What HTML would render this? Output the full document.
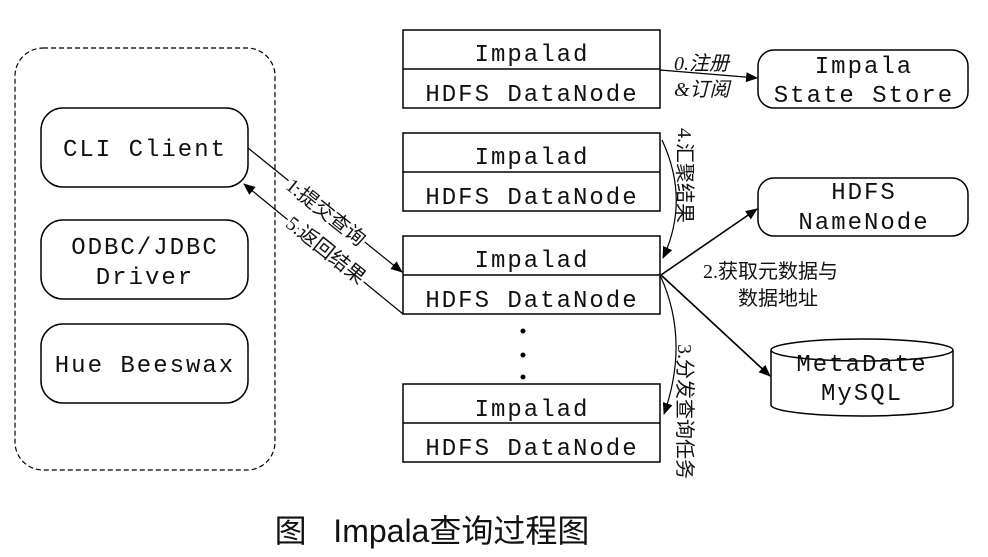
<!DOCTYPE html>
<html><head><meta charset="utf-8"><style>
html,body{margin:0;padding:0;background:#fff;width:988px;height:557px;overflow:hidden}
svg{display:block}
.m{font-family:"Liberation Mono","Noto Sans CJK SC",monospace;font-size:24px;letter-spacing:2px;fill:#111}
.c{font-family:"Liberation Serif","Noto Sans CJK SC",serif;font-size:20px;fill:#111}
.w{stroke:#fff;stroke-width:6px;paint-order:stroke}
</style></head><body>
<svg width="988" height="557" xmlns="http://www.w3.org/2000/svg">
<defs><marker id="a" markerWidth="12" markerHeight="10" refX="11" refY="5" orient="auto" markerUnits="userSpaceOnUse"><path d="M0,0 L12,5 L0,10 Z" fill="#000"/></marker></defs>
<g fill="none" stroke="#000" stroke-width="1.5">
<rect x="15" y="48" width="260" height="422" rx="28" stroke-dasharray="5,3" stroke-width="1.2"/>
<rect x="41" y="108" width="207" height="79" rx="22"/>
<rect x="41" y="220" width="207" height="79" rx="22"/>
<rect x="41" y="324" width="207" height="79" rx="22"/>
<rect x="403" y="30" width="257" height="78"/><line x1="403" y1="69" x2="660" y2="69"/>
<rect x="403" y="133" width="257" height="78"/><line x1="403" y1="172" x2="660" y2="172"/>
<rect x="403" y="236" width="257" height="78"/><line x1="403" y1="275" x2="660" y2="275"/>
<rect x="403" y="384" width="257" height="78"/><line x1="403" y1="423" x2="660" y2="423"/>
<rect x="758" y="50" width="210" height="58" rx="16"/>
<rect x="758" y="178" width="210" height="58" rx="16"/>
<path d="M771,350 L771,405 A91,11 0 0 0 953,405 L953,350"/>
<ellipse cx="862" cy="350" rx="91" ry="11"/>
</g>
<g stroke="#000" stroke-width="1.2" fill="none">
<line x1="248" y1="148" x2="402" y2="272" marker-end="url(#a)"/>
<line x1="403" y1="314" x2="244" y2="184" marker-end="url(#a)"/>
<line x1="660" y1="70" x2="757" y2="78" marker-end="url(#a)"/>
<path d="M662,140 Q690,200 663,258" marker-end="url(#a)"/>
<path d="M660,275 Q690,340 664,414" marker-end="url(#a)"/>
<line x1="661" y1="275" x2="757" y2="209" marker-end="url(#a)" stroke-width="1.6"/>
<line x1="661" y1="275" x2="770" y2="376" marker-end="url(#a)" stroke-width="1.6"/>
</g>
<g fill="#000"><circle cx="523" cy="331" r="2.5"/><circle cx="523" cy="355" r="2.5"/><circle cx="523" cy="377" r="2.5"/></g>
<g class="m" text-anchor="middle">
<text x="145" y="156">CLI Client</text>
<text x="145" y="254">ODBC/JDBC</text>
<text x="145" y="284">Driver</text>
<text x="145" y="372">Hue Beeswax</text>
<text x="532" y="61">Impalad</text><text x="532" y="101">HDFS DataNode</text>
<text x="532" y="164">Impalad</text><text x="532" y="204">HDFS DataNode</text>
<text x="532" y="267">Impalad</text><text x="532" y="307">HDFS DataNode</text>
<text x="532" y="416">Impalad</text><text x="532" y="455">HDFS DataNode</text>
<text x="864" y="73">Impala</text><text x="864" y="102">State Store</text>
<text x="864" y="199">HDFS</text><text x="864" y="229">NameNode</text>
<text x="862" y="371">MetaDate</text><text x="862" y="400">MySQL</text>
</g>
<g class="c">
<text x="674" y="70" font-style="italic">0.注册</text>
<text x="674" y="96" font-style="italic">&amp;订阅</text>
<text x="703" y="278">2.获取元数据与</text>
<text x="738" y="305">数据地址</text>
<text class="w" transform="translate(326,212) rotate(38.7)" text-anchor="middle" dy="7">1.提交查询</text>
<text class="w" transform="translate(326,250) rotate(38.7)" text-anchor="middle" dy="7">5.返回结果</text>
<text transform="translate(678,128) rotate(90)">4.汇聚结果</text>
<text transform="translate(678,344) rotate(90)">3.分发查询任务</text>
</g>
<text x="432" y="542" text-anchor="middle" font-family="Liberation Sans,Noto Sans CJK SC,sans-serif" font-size="32" fill="#111" xml:space="preserve">图   Impala查询过程图</text>
</svg>
</body></html>
